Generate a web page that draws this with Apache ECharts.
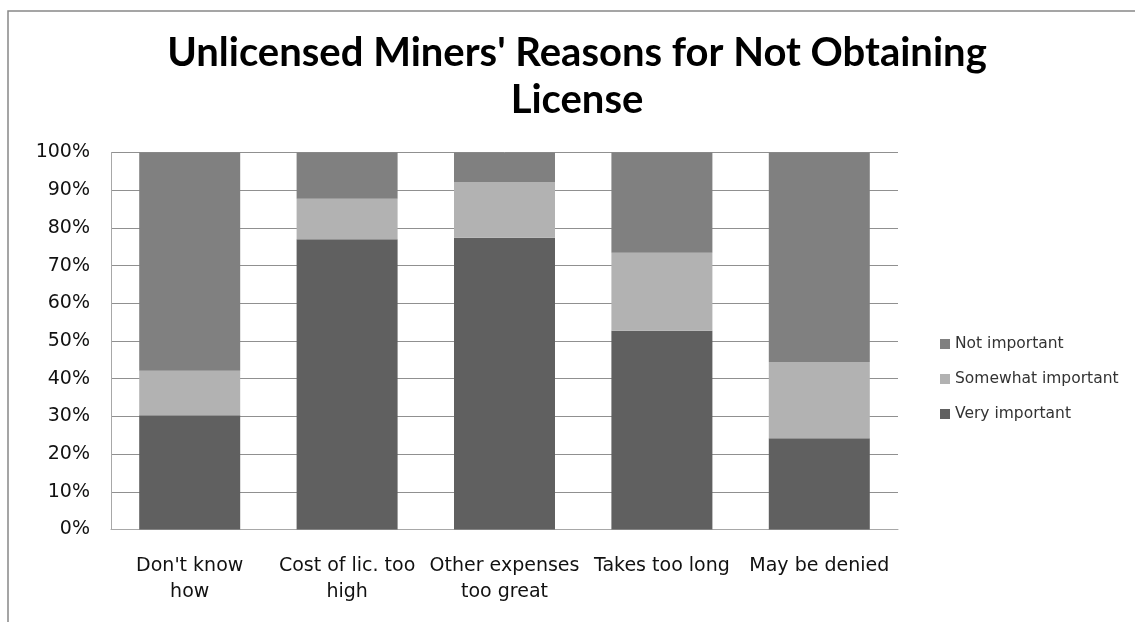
<!DOCTYPE html>
<html>
<head>
<meta charset="utf-8">
<script src="https://cdn.jsdelivr.net/npm/echarts@6/dist/echarts.min.js"></script>
<style>
html,body{margin:0;padding:0;background:#fff;}
#chart{width:1135px;height:622px;}
</style>
</head>
<body>
<div id="chart"></div>
<script>
const categories = ["Don't know\nhow", "Cost of lic. too\nhigh", "Other expenses\ntoo great", "Takes too long", "May be denied"];
const veryImportant = [30.3, 77.0, 77.4, 52.7, 24.2];
const somewhatImportant = [11.8, 10.7, 14.8, 20.7, 20.2];
const notImportant = [57.9, 12.3, 7.8, 26.6, 55.6];
const yTicks = [0, 10, 20, 30, 40, 50, 60, 70, 80, 90, 100];
const titleText = "Unlicensed Miners' Reasons for Not Obtaining\nLicense";

const chart = echarts.init(document.getElementById('chart'), null, {renderer: 'canvas'});
const labelFont = 'DejaVu Sans';
chart.setOption({
  animation: false,
  backgroundColor: '#fff',
  title: {
    text: titleText,
    left: 572,
    top: 25,
    textAlign: 'center',
    textStyle: {fontFamily: 'Lato', fontWeight: 'bold', fontSize: 40, lineHeight: 47, color: '#000'}
  },
  graphic: [{
    type: 'polyline',
    shape: {points: [[8, 622], [8, 11], [1135, 11]]},
    style: {stroke: '#888', lineWidth: 1.5, fill: null},
    silent: true
  }],
  legend: {
    orient: 'vertical',
    left: 935,
    top: 331,
    itemWidth: 10,
    itemHeight: 10,
    itemGap: 19,
    icon: 'rect',
    data: ['Not important', 'Somewhat important', 'Very important'],
    textStyle: {fontFamily: labelFont, fontSize: 15.5, lineHeight: 16, color: '#333'}
  },
  grid: {left: 111, right: 237, top: 152.5, bottom: 92.5, containLabel: false},
  xAxis: {
    type: 'category',
    data: categories,
    axisLine: {show: true, lineStyle: {color: '#a8a8a8', width: 1}},
    axisTick: {show: false},
    axisLabel: {fontFamily: labelFont, fontSize: 19, lineHeight: 26, color: '#111', margin: 24, interval: 0},
    splitLine: {show: false}
  },
  yAxis: {
    type: 'value',
    min: 0,
    max: 100,
    interval: 10,
    axisLine: {show: true, lineStyle: {color: '#a8a8a8', width: 1}},
    axisTick: {show: false},
    axisLabel: {fontFamily: labelFont, fontSize: 19, color: '#111', margin: 21, formatter: '{value}%'},
    splitLine: {show: true, lineStyle: {color: '#909090', width: 1}}
  },
  series: [
    {name: 'Very important', type: 'bar', stack: 'total', data: veryImportant, barWidth: 101, itemStyle: {color: '#606060'}},
    {name: 'Somewhat important', type: 'bar', stack: 'total', data: somewhatImportant, barWidth: 101, itemStyle: {color: '#b2b2b2'}},
    {name: 'Not important', type: 'bar', stack: 'total', data: notImportant, barWidth: 101, itemStyle: {color: '#808080'}}
  ]
});
</script>
</body>
</html>
